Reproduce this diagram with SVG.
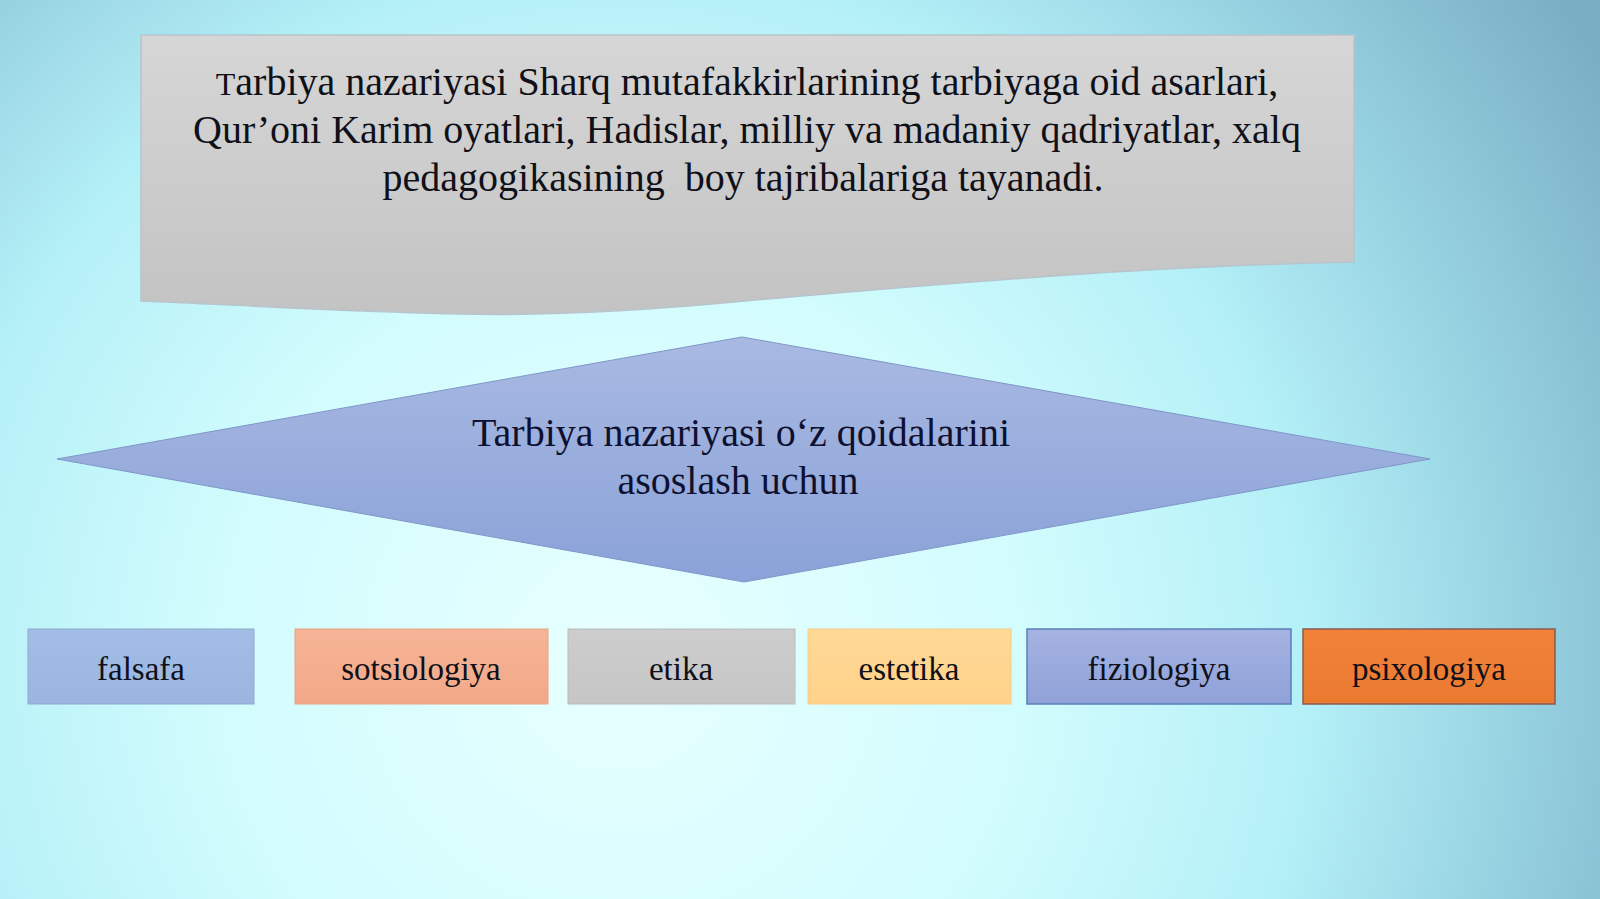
<svg xmlns="http://www.w3.org/2000/svg" width="1600" height="899" viewBox="0 0 1600 899">
<defs>
<radialGradient id="bg" cx="620" cy="660" r="1150" gradientUnits="userSpaceOnUse">
<stop offset="0" stop-color="#e8ffff"/>
<stop offset="0.35" stop-color="#d2fcfd"/>
<stop offset="0.6" stop-color="#b4f0f7"/>
<stop offset="0.8" stop-color="#94cfdf"/>
<stop offset="1" stop-color="#7aaec4"/>
</radialGradient>
<linearGradient id="gray" x1="0" y1="0" x2="0" y2="1">
<stop offset="0" stop-color="#d6d6d6"/>
<stop offset="1" stop-color="#c3c3c3"/>
</linearGradient>
<linearGradient id="dia" x1="0" y1="0" x2="0" y2="1">
<stop offset="0" stop-color="#a9b9e2"/>
<stop offset="1" stop-color="#8aa2d8"/>
</linearGradient>
<linearGradient id="gBlue" x1="0" y1="0" x2="0" y2="1">
<stop offset="0" stop-color="#a2bde6"/>
<stop offset="1" stop-color="#9ab6e0"/>
</linearGradient>
<linearGradient id="gSal" x1="0" y1="0" x2="0" y2="1">
<stop offset="0" stop-color="#f6b496"/>
<stop offset="1" stop-color="#f2a888"/>
</linearGradient>
<linearGradient id="gGray" x1="0" y1="0" x2="0" y2="1">
<stop offset="0" stop-color="#cdcdcd"/>
<stop offset="1" stop-color="#c6c6c6"/>
</linearGradient>
<linearGradient id="gYel" x1="0" y1="0" x2="0" y2="1">
<stop offset="0" stop-color="#ffd996"/>
<stop offset="1" stop-color="#ffd28a"/>
</linearGradient>
<linearGradient id="gLav" x1="0" y1="0" x2="0" y2="1">
<stop offset="0" stop-color="#a6b3e2"/>
<stop offset="1" stop-color="#8fa1d8"/>
</linearGradient>
<linearGradient id="gOr" x1="0" y1="0" x2="0" y2="1">
<stop offset="0" stop-color="#f0823a"/>
<stop offset="1" stop-color="#eb7a30"/>
</linearGradient>
</defs>
<style>
.t{font-family:"Liberation Serif","Times New Roman",serif;fill:#101018;text-anchor:middle}
.big{font-size:40px}
.box{font-size:33px}
.dt{font-size:40px;fill:#0e1030}
</style>
<rect width="1600" height="899" fill="url(#bg)"/>

<g id="banner">
<path d="M141,35 L1354,35 L1354,262 C1150,266 950,283 745,301 C640,311 540,316 459,314 C330,311 220,304 141,301 Z" fill="url(#gray)" stroke="#b8c4cc" stroke-width="1.5"/>
<text class="t big" x="747" y="95"><tspan font-size="32">T</tspan>arbiya nazariyasi Sharq mutafakkirlarining tarbiyaga oid asarlari,</text>
<text class="t big" x="747" y="143">Qur’oni Karim oyatlari, Hadislar, milliy va madaniy qadriyatlar, xalq</text>
<text class="t big" x="743" y="191">pedagogikasining &#160;boy tajribalariga tayanadi.</text>
</g>

<g id="diamond">
<polygon points="57,459 742,337 1430,459 744,582" fill="url(#dia)" stroke="#7f96c8" stroke-width="1"/>
<text class="t dt" x="741" y="446">Tarbiya nazariyasi o‘z qoidalarini</text>
<text class="t dt" x="738" y="494">asoslash uchun</text>
</g>

<g id="connectors"></g>

<g id="falsafa">
<rect x="28" y="629" width="226" height="75" fill="url(#gBlue)" stroke="#8fa8cc" stroke-width="1"/>
<text class="t box" x="141" y="680">falsafa</text>
</g>
<g id="sotsiologiya">
<rect x="295" y="629" width="253" height="75" fill="url(#gSal)" stroke="#e8a284" stroke-width="1"/>
<text class="t box" x="421" y="680">sotsiologiya</text>
</g>
<g id="etika">
<rect x="568" y="629" width="227" height="75" fill="url(#gGray)" stroke="#bbbbbb" stroke-width="1"/>
<text class="t box" x="681" y="680">etika</text>
</g>
<g id="estetika">
<rect x="808" y="629" width="203" height="75" fill="url(#gYel)" stroke="#f5cc88" stroke-width="1"/>
<text class="t box" x="909" y="680">estetika</text>
</g>
<g id="fiziologiya">
<rect x="1027" y="629" width="264" height="75" fill="url(#gLav)" stroke="#5b7fb8" stroke-width="1.5"/>
<text class="t box" x="1159" y="680">fiziologiya</text>
</g>
<g id="psixologiya">
<rect x="1303" y="629" width="252" height="75" fill="url(#gOr)" stroke="#8a5a50" stroke-width="1.5"/>
<text class="t box" x="1429" y="680">psixologiya</text>
</g>
</svg>
